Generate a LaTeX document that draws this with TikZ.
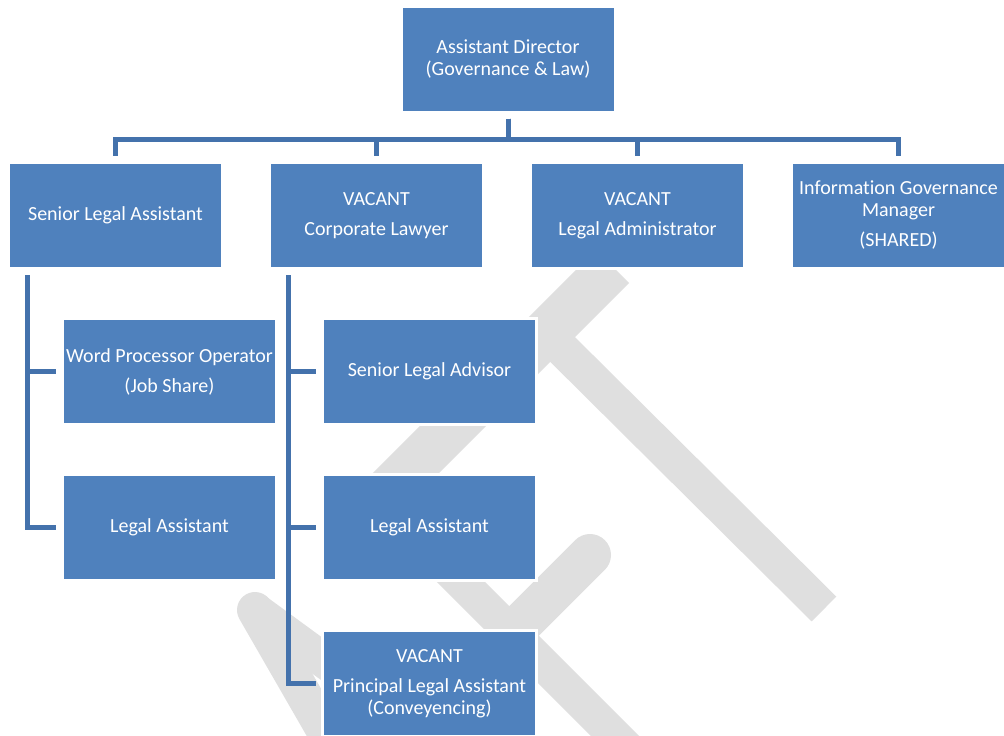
\documentclass[tikz,border=0pt]{standalone}
\usepackage{fontspec}
\setmainfont{Carlito}[Ligatures=NoCommon]
\usetikzlibrary{positioning}
\definecolor{boxblue}{HTML}{4F81BD}
\definecolor{lineblue}{HTML}{4472AC}
\definecolor{ghostgray}{HTML}{DFDFDF}
\begin{document}
\begin{tikzpicture}[x=1pt,y=-1pt]
\tikzset{post/.style={rectangle, align=center, minimum width=214pt, minimum height=106pt, inner sep=2pt, fill=boxblue, draw=white, line width=3pt, text=white, font=\fontsize{20}{22}\selectfont},
		link/.style={draw=lineblue, line width=5pt, shorten <=5pt, shorten >=5pt},
		ghost/.style={draw=ghostgray, line width=#1}}
\useasboundingbox (0,0) rectangle (1004,736);
% watermark
\draw[ghost=47] (612.5,266.5) -- (350,529);
\draw[ghost=35] (546,333) -- (824,609);
\draw[ghost=36, line cap=round] (255,610) -- (335,749);
\draw[ghost=35] (255,610) -- (352,681);
\draw[ghost=34] (430,551) -- (680,801);
\draw[ghost=42, line cap=round] (590,555) -- (470,675);
% top
\node[post] (AD) at (508,59) {Assistant Director\\(Governance \& Law)};
\node[post] (SLA) at (115.5,215.5) {Senior Legal Assistant};
\node[post, right=44pt of SLA] (CL) {VACANT\\[8pt]Corporate Lawyer};
\node[post, right=44pt of CL] (LA) {VACANT\\[8pt]Legal Administrator};
\node[post, right=44pt of LA] (IGM) {Information Governance\\Manager\\[8pt](SHARED)};
\draw[link] (AD.south) -- ++(0,25.5) -| (SLA.north);
\draw[link] (AD.south) -- ++(0,25.5) -| (CL.north);
\draw[link] (AD.south) -- ++(0,25.5) -| (LA.north);
\draw[link] (AD.south) -- ++(0,25.5) -| (IGM.north);
% left column
\node[post, below right=47pt and 54pt of SLA.south west] (WPO) {Word Processor Operator\\[8pt](Job Share)};
\node[post, below=47pt of WPO] (LA1) {Legal Assistant};
\draw[link] ([xshift=20pt]SLA.south west) |- (WPO.west);
\draw[link] ([xshift=20pt]SLA.south west) |- (LA1.west);
% middle column
\node[post, below right=47pt and 53pt of CL.south west] (SLAd) {Senior Legal Advisor};
\node[post, below=47pt of SLAd] (LA2) {Legal Assistant};
\node[post, below=47pt of LA2] (PLA) {VACANT\\[8pt]Principal Legal Assistant\\(Conveyencing)};
\draw[link] ([xshift=20pt]CL.south west) |- (SLAd.west);
\draw[link] ([xshift=20pt]CL.south west) |- (LA2.west);
\draw[link] ([xshift=20pt]CL.south west) |- (PLA.west);
\end{tikzpicture}
\end{document}
